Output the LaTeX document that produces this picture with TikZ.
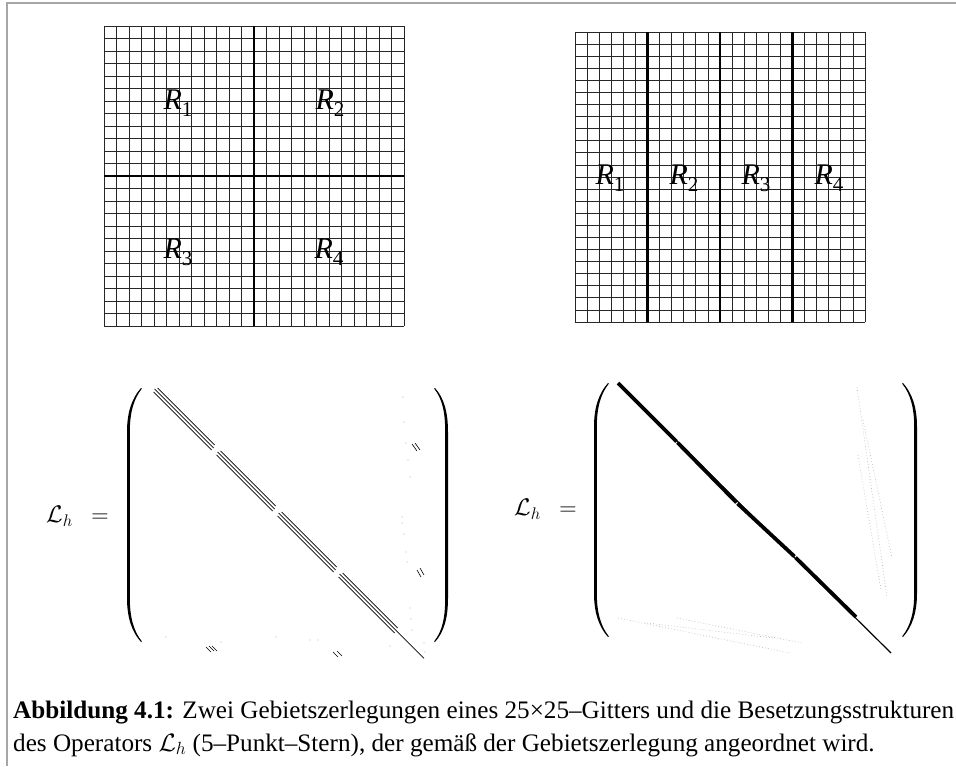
\RequirePackage{fix-cm}
\documentclass[tikz,border=0pt]{standalone}
\usepackage{fontspec}
\setmainfont{Liberation Serif}
\newcommand\Rlab[1]{\textit{R}\kern-0.3pt\raisebox{-0.25em}{\fontsize{21}{21}\selectfont #1}}
\newcommand\capone{\textbf{Abbildung 4.1:} Zwei Gebietszerlegungen eines 25×25–Gitters und die Besetzungsstrukturen}
\newlength\capwd
\settowidth\capwd{\fontsize{10}{10}\selectfont\capone}
\pgfmathsetmacro\capfs{10*941/\capwd}
\tikzset{
  frameline/.style={gray!70, line width=1.1pt},
  gridthin/.style={black!85, line width=0.75pt},
  gridthick/.style={black, line width=2.4pt},
  rlabel/.style={font=\fontsize{30}{30}\selectfont, inner sep=0pt, anchor=base},
  mlabel/.style={font=\fontsize{24}{24}\selectfont, inner sep=0pt, anchor=west},
  capt/.style={font=\fontsize{\capfs}{\capfs}\selectfont, inner sep=0pt, anchor=base west},
  paren/.style={fill=black},
  band/.style={black, line width=0.75pt},
  cmark/.style={black, line width=0.6pt},
  faint/.style={gray!55, line width=0.6pt, dash pattern=on 0.8pt off 2.2pt},
  fdot/.style={gray!60},
}
\begin{document}
\begin{tikzpicture}[x=1pt,y=-1pt]
\useasboundingbox (0,0) rectangle (956,766);
% frame
\draw[frameline] (7,766) -- (7,3) -- (956,3);

% ---------- left grid ----------
\foreach \i in {0,...,24} {
  \draw[gridthin] ({104+\i*12.5},26) -- ({104+\i*12.5},326);
  \draw[gridthin] (104,{26+\i*12.5}) -- (404,{26+\i*12.5});
}
\draw[gridthick] (254,26) -- (254,326);
\draw[gridthick] (104,176) -- (404,176);
\node[rlabel] (a1) at (178,109) {\Rlab{1}};
\node[rlabel] (a2) at (330,109) {\Rlab{2}};
\node[rlabel] (a3) at (178,258) {\Rlab{3}};
\node[rlabel] (a4) at (329,258) {\Rlab{4}};

% ---------- right grid ----------
\foreach \i in {0,...,24} {
  \draw[gridthin] ({575+\i*290/24},32) -- ({575+\i*290/24},322);
  \draw[gridthin] (575,{32+\i*290/24}) -- (865,{32+\i*290/24});
}
\foreach \k in {1,2,3} \draw[gridthick] ({575+\k*72.5},32) -- ({575+\k*72.5},322);
\node[rlabel] (b1) at (610,184) {\Rlab{1}};
\node[rlabel] (b2) at (684,184) {\Rlab{2}};
\node[rlabel] (b3) at (756,184) {\Rlab{3}};
\node[rlabel] (b4) at (829,184) {\Rlab{4}};

% ---------- left matrix ----------
\node[mlabel] (L1) at (46,516) {$\mathcal{L}_h\mkern9mu=$};
\fill[paren] (141,388) .. controls (132,398) and (127,412) .. (127,432) -- (127,598) .. controls (127,618) and (132,632) .. (141,642)
  -- (141.8,641.3) .. controls (133.5,631) and (129.8,617) .. (129.8,598) -- (129.8,432) .. controls (129.8,413) and (133.5,399) .. (141.8,388.7) -- cycle;
\fill[paren] (435,388) .. controls (444,398) and (448,412) .. (448,432) -- (448,598) .. controls (448,618) and (444,632) .. (435,642)
  -- (434.2,641.3) .. controls (442.5,631) and (445.2,617) .. (445.2,598) -- (445.2,432) .. controls (445.2,413) and (442.5,399) .. (434.2,388.7) -- cycle;
% main diagonal: x = y - 234.3 ; bands in four blocks
\foreach \ya/\yb in {387/450, 450/511, 511/572, 572/633} {
  \draw[band] ({\ya-234.3+4+1},{\ya+1}) -- ({\yb-234.3+4-5},{\yb-5});
  \draw[band] ({\ya-234.3+2},{\ya+2}) -- ({\yb-234.3-2},{\yb-2});
  \draw[band] ({\ya-234.3-4+5},{\ya+5}) -- ({\yb-234.3-4},{\yb});
}
\draw[band] ({633-234.3-2},631) -- (424,658.3);
% coupling marks
\draw[cmark] (412,444) -- (417,451) (415,443) -- (420,450);
\draw[cmark] (417,570) -- (421,577) (420,568) -- (424,575);
\draw[cmark] (206,647) -- (211,652) (209,646) -- (214,651) (212,646) -- (217,651);
\draw[cmark] (333,652) -- (338,657) (337,651) -- (342,656);
\foreach \p in {(403,397),(404,422),(406,443),(408,460),(410,477),(402,517),(402,523),(404,534),(406,552),(407,562),(410,608),(411,619),(412,630),(424,643),(390,646),(166,637),(276,637),(310,640),(318,640),(221,642),(425,652)}
  \fill[fdot] \p circle (0.7);

% ---------- right matrix ----------
\node[mlabel] (L2) at (514,509) {$\mathcal{L}_h\mkern9mu=$};
\fill[paren] (608,383) .. controls (599,393) and (594,407) .. (594,427) -- (594,593) .. controls (594,613) and (599,627) .. (608,637)
  -- (608.8,636.3) .. controls (600.5,626) and (596.8,612) .. (596.8,593) -- (596.8,427) .. controls (596.8,408) and (600.5,394) .. (608.8,383.7) -- cycle;
\fill[paren] (903,383) .. controls (912,393) and (917,407) .. (917,427) -- (917,593) .. controls (917,613) and (912,627) .. (903,637)
  -- (902.2,636.3) .. controls (910.5,626) and (914.2,612) .. (914.2,593) -- (914.2,427) .. controls (914.2,408) and (910.5,394) .. (902.2,383.7) -- cycle;
\draw[black, line width=1.2pt] (618,383) -- (891,653);
\foreach \xa/\ya/\xb/\yb in {618/383/676.5/441.5, 677.5/442.5/736.5/502.5, 737.5/503.5/794.5/556.5, 795.5/557.5/856/617}
  \draw[black, line width=3.8pt] (\xa,\ya) -- (\xb,\yb);
% faint coupling bands
\draw[faint] (857,387) -- (887,597);
\draw[faint] (863,420) -- (892,558);
\draw[faint] (858,455) -- (881,590);
\draw[faint] (618,618) -- (790,653);
\draw[faint] (677,618) -- (802,643);
\draw[faint] (647,623) -- (773,638);

% ---------- caption ----------
\node[capt] (cap1) at (13,718) {\capone};
\node[capt] (cap2) at (13,751) {des Operators $\mathcal{L}_h$ (5–Punkt–Stern), der gemäß der Gebietszerlegung angeordnet wird.};
\end{tikzpicture}
\end{document}
